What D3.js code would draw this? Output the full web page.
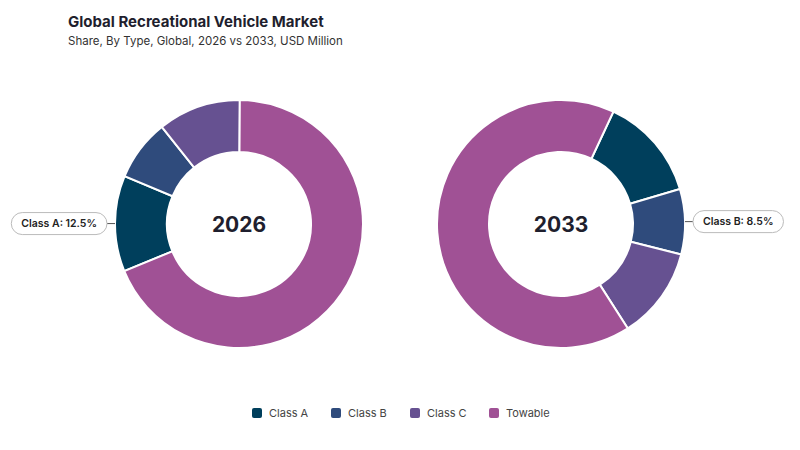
<!DOCTYPE html>
<html>
<head>
<meta charset="utf-8">
<script src="https://cdn.jsdelivr.net/npm/d3@7"></script>
<style>
  body { margin: 0; font-family: Inter, "Noto Sans", sans-serif; background: #fff; }
  .title { font-size: 15px; font-weight: 700; fill: #1f1f2e; }
  .subtitle { font-size: 11.5px; fill: #333; }
  .center { font-size: 21px; font-weight: 700; fill: #1f1f2e; }
  .legendLabel { font-size: 11px; fill: #444; }
  .callout { font-size: 10.5px; font-weight: 600; fill: #222; }
</style>
</head>
<body>
<div id="chart"></div>
<script>
var categories = ['Class A', 'Class B', 'Class C', 'Towable'];
var colors = ['#003f5c', '#2f4b7c', '#665191', '#a05195'];
var years = ['2026', '2033'];
var values2026 = [12.5, 8.0, 10.8, 68.7];
var values2033 = [13.5, 8.5, 12.0, 66.0];
var startDeg = [247.7, 25];          // where Class A begins, clockwise from top
var calloutIndex = [0, 1];           // which slice gets a label
var series = [values2026, values2033];

var width = 800, height = 450;
var svg = d3.select('#chart').append('svg').attr('width', width).attr('height', height);

svg.append('text').attr('class', 'title').attr('x', 68).attr('y', 27).text('Global Recreational Vehicle Market');
svg.append('text').attr('class', 'subtitle').attr('x', 68).attr('y', 45).text('Share, By Type, Global, 2026 vs 2033, USD Million');

var centers = [239, 561], cy = 224, outerR = 124, innerR = 72;
var arc = d3.arc().innerRadius(innerR).outerRadius(outerR);

series.forEach(function(vals, k) {
    var s = startDeg[k] * Math.PI / 180;
    var pie = d3.pie().sort(null).startAngle(s).endAngle(s + 2 * Math.PI);
    var arcs = pie(vals);
    var g = svg.append('g').attr('transform', 'translate(' + centers[k] + ',' + cy + ')');
    g.selectAll('path').data(arcs).enter().append('path')
        .attr('d', arc)
        .attr('fill', function(d, i) { return colors[i]; })
        .attr('stroke', '#fff').attr('stroke-width', 2);
    g.append('text').attr('class', 'center').attr('text-anchor', 'middle').attr('dy', '0.36em').text(years[k]);

    // callout
    var a = arcs[calloutIndex[k]];
    var mid = (a.startAngle + a.endAngle) / 2;
    var ex = Math.sin(mid) * outerR, ey = -Math.cos(mid) * outerR;
    var side = ex < 0 ? -1 : 1;
    var lx = ex + side * 8;
    var label = categories[calloutIndex[k]] + ': ' + vals[calloutIndex[k]].toFixed(1) + '%';
    g.append('line').attr('x1', ex).attr('y1', ey).attr('x2', lx).attr('y2', ey)
        .attr('stroke', '#555').attr('stroke-width', 1);
    var t = g.append('text').attr('class', 'callout').attr('y', ey).attr('dy', '0.35em').text(label);
    var w = t.node().getComputedTextLength() + 20;
    var bx = side < 0 ? lx - w : lx;
    g.insert('rect', 'text.callout').attr('x', bx).attr('y', ey - 11).attr('width', w).attr('height', 22)
        .attr('rx', 11).attr('fill', '#fff').attr('stroke', '#bbb');
    t.attr('x', bx + 10);
});

// legend
var legendX = d3.scalePoint().domain(categories).range([252, 489]);
var lg = svg.selectAll('.legend').data(categories).enter().append('g')
    .attr('transform', function(d) { return 'translate(' + legendX(d) + ',413)'; });
lg.append('rect').attr('x', 0).attr('y', -5).attr('width', 10).attr('height', 10).attr('rx', 2)
    .attr('fill', function(d, i) { return colors[i]; });
lg.append('text').attr('class', 'legendLabel').attr('x', 17).attr('dy', '0.36em').text(function(d) { return d; });
</script>
</body>
</html>
